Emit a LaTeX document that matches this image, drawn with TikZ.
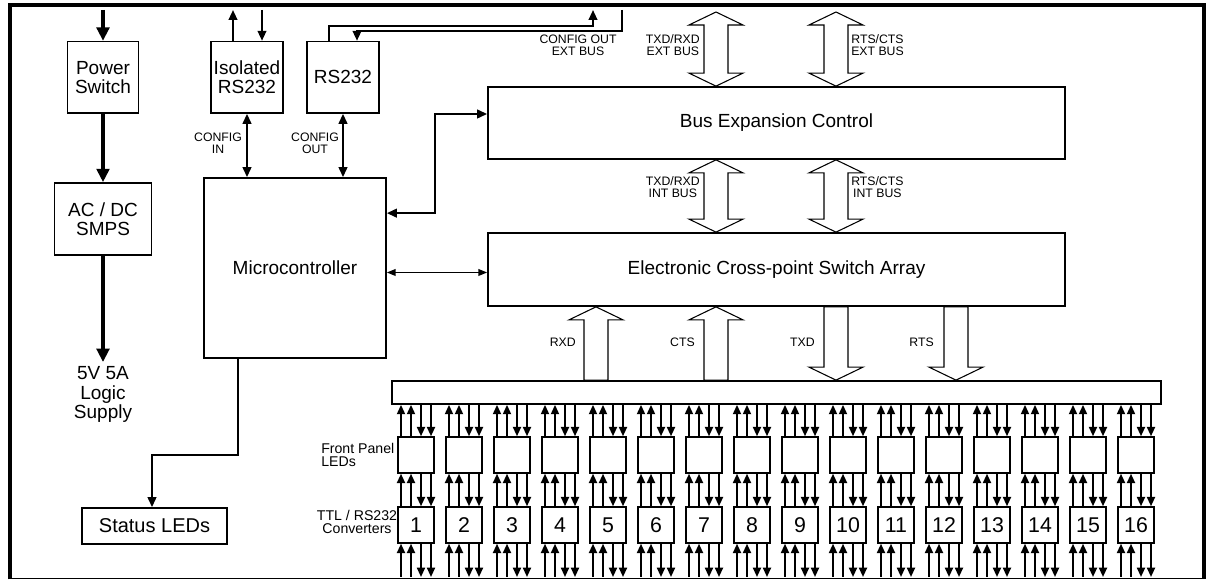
\documentclass[tikz,border=0pt]{standalone}
\usepackage{fontspec}
\setmainfont{Liberation Sans}
\usetikzlibrary{arrows.meta,positioning,calc}

% hollow bus arrow: x, top end, bottom end, heads (0 up, 1 down, 2 both)
\newcommand{\busarrow}[4]{%
  \coordinate (bt) at (#1 |- #2);
  \coordinate (bb) at (#1 |- #3);
  \ifcase#4
    \draw[bus] (bt) -- ++(27,13) -- ++(-15,0) -- ($(bb)+(12,0)$) -- ++(-24,0) -- ($(bt)+(-12,13)$) -- ++(-15,0) -- cycle;
  \or
    \draw[bus] ($(bt)+(-12,0)$) -- ++(24,0) -- ($(bb)+(12,-13)$) -- ++(15,0) -- (bb) -- ++(-27,-13) -- ++(15,0) -- cycle;
  \or
    \draw[bus] (bt) -- ++(27,13) -- ++(-15,0) -- ($(bb)+(12,-13)$) -- ++(15,0) -- (bb) -- ++(-27,-13) -- ++(15,0) -- ($(bt)+(-12,13)$) -- ++(-15,0) -- cycle;
  \fi
}

\begin{document}
\begin{tikzpicture}[x=0.75pt,y=0.75pt,yscale=-1,xscale=1,
	blk/.style={draw,line width=1.3pt,inner sep=0pt,align=center,font=\fontsize{14.25}{14.5}\selectfont},
	chan/.style={draw,line width=1.1pt,minimum width=27pt,minimum height=27pt,inner sep=0pt,font=\fontsize{16}{16}\selectfont},
	lbl/.style={inner sep=0pt,align=center,font=\fontsize{9.2}{9}\selectfont},
	side/.style={inner sep=0pt,font=\fontsize{10.6}{9.2}\selectfont},
	pwr/.style={line width=2.4pt,-{Triangle[length=10pt,width=9.5pt]}},
	sig/.style={line width=1.5pt,>={Triangle[length=7.5pt,width=6.5pt]}},
	chline/.style={line width=1.4pt,>={Triangle[length=7pt,width=6pt]}},
	bus/.style={line width=0.8pt},
]
	\useasboundingbox (0,0) rectangle (1208,580);
	
	%Frame
	\draw [line width=3pt] (9.7,579.5) -- (9.7,5.3) -- (1204,5.3) -- (1204,579.5) ;
	\draw [line width=0.8pt] (9.7,578.5) -- (1204,578.5) ;
	\coordinate (top) at (0,10);
	\coordinate (ext) at (0,12);
	\coordinate (fb) at (0,577);
	
	%Blocks
	\node [blk,minimum width=53.25pt,minimum height=53.5pt] (ps) at (103,77.3) {Power\\Switch};
	\node [blk,minimum width=72.75pt,minimum height=54pt] (smps) at (103,219) {AC / DC\\SMPS};
	\node [blk,draw=none,anchor=north,inner sep=3pt] (sup) at (103,362) {5V 5A\\Logic\\Supply};
	\node [blk,minimum width=54pt,minimum height=53.5pt] (iso) at (247,77.3) {Isolated\\RS232};
	\node [blk,minimum width=54pt,minimum height=53.5pt] (rs) at (343,77.3) {RS232};
	\node [blk,minimum width=136.5pt,minimum height=135pt] (mcu) at (295,268) {Microcontroller};
	\node [blk,minimum width=432.75pt,minimum height=54pt] (bec) at (776.5,123) {Bus Expansion Control};
	\node [blk,minimum width=432.75pt,minimum height=54.75pt] (ecs) at (776.5,269.5) {Electronic Cross-point Switch Array};
	\node [blk,minimum width=576.75pt,minimum height=17.25pt] (bar) at (776.5,392.5) {};
	\node [blk,minimum width=108.75pt,minimum height=27pt,font=\fontsize{15}{15}\selectfont] (leds) at (154.5,526) {Status LEDs};
	
	%Channels
	\foreach \i in {1,...,16}{
		\node [chan] (led\i) at ({416+48*(\i-1)},455) {};
		\node [chan] (cv\i) at ({416+48*(\i-1)},525) {\i};
	}
	\foreach \i in {1,...,16}{
		\foreach \d in {-15,-5}{
			\coordinate (p) at ($(led\i.north)+(\d,0)$);
			\coordinate (q) at ($(cv\i.north)+(\d,0)$);
			\coordinate (r) at ($(cv\i.south)+(\d,0)$);
			\draw [chline,<-] (p |- bar.south) -- (p);
			\draw [chline,<-] (q |- led\i.south) -- (q);
			\draw [chline,<-] (r) -- (r |- fb);
		}
		\foreach \d in {5,15}{
			\coordinate (p) at ($(led\i.north)+(\d,0)$);
			\coordinate (q) at ($(cv\i.north)+(\d,0)$);
			\coordinate (r) at ($(cv\i.south)+(\d,0)$);
			\draw [chline,->] (p |- bar.south) -- (p);
			\draw [chline,->] (q |- led\i.south) -- (q);
			\draw [chline,->] (r) -- (r |- fb);
		}
	}
	
	%Power path
	\draw [pwr] (ps.north |- top) -- (ps.north);
	\draw [pwr] (ps.south) -- (ps.south |- smps.north);
	\draw [pwr] (smps.south) -- (sup.north);
	
	%Serial ports
	\coordinate (isoa) at ($(iso.north)+(-14,0)$);
	\coordinate (isob) at ($(iso.north)+(15,0)$);
	\draw [sig,->] (isoa) -- (isoa |- top);
	\draw [sig,->] (isob |- top) -- (isob);
	\coordinate (rsa) at ($(rs.north)+(-14,0)$);
	\coordinate (rsb) at ($(rs.north)+(14,0)$);
	\coordinate (xo) at (593,26);
	\coordinate (xi) at (622,31);
	\draw [sig,->] (rsa) |- (xo) -- (xo |- top);
	\draw [sig,->] (xi |- top) -- (xi) -| (rsb);
	\draw [sig,<->] (iso.south) -- (iso.south |- mcu.north);
	\draw [sig,<->] (rs.south) -- (rs.south |- mcu.north);
	
	%Microcontroller links
	\draw [sig,<->] ($(mcu.north east)+(0,36)$) -| ($(bec.west)+(-52,-9)$) -- ($(bec.west)+(0,-9)$);
	\draw [line width=1pt,>={Triangle[length=6.5pt,width=5pt]},<->] ($(mcu.east |- ecs.west)+(0,3)$) -- ($(ecs.west)+(0,3)$);
	\coordinate (mcs) at ($(mcu.south west)+(35,0)$);
	\draw [sig,->] (mcs) -- ++(0,96) -| ($(leds.north)+(-2.5,0)$);
	
	%Buses
	\busarrow{716,0}{ext}{bec.north}{2}
	\busarrow{836,0}{ext}{bec.north}{2}
	\busarrow{716,0}{bec.south}{ecs.north}{2}
	\busarrow{836,0}{bec.south}{ecs.north}{2}
	\busarrow{596,0}{ecs.south}{bar.north}{0}
	\busarrow{716,0}{ecs.south}{bar.north}{0}
	\busarrow{836,0}{ecs.south}{bar.north}{1}
	\busarrow{956,0}{ecs.south}{bar.north}{1}
	
	% Text Node
	\node [lbl] (cfgin) at (218,143) {CONFIG\\IN};
	\node [lbl] (cfgout) at (315,143) {CONFIG\\OUT};
	\node [lbl] (cfgext) at (578,45) {CONFIG OUT\\EXT BUS};
	\node [lbl,anchor=east] (txext) at (700,45) {TXD/RXD\\EXT BUS};
	\node [lbl,anchor=west] (rtext) at (851,45) {RTS/CTS\\EXT BUS};
	\node [lbl,anchor=east] (txint) at (700,187) {TXD/RXD\\INT BUS};
	\node [lbl,anchor=west] (rtint) at (851,187) {RTS/CTS\\INT BUS};
	\node [lbl,anchor=east] (lrxd) at (576,342) {RXD};
	\node [lbl,anchor=east] (lcts) at (695,342) {CTS};
	\node [lbl,anchor=east] (ltxd) at (815,342) {TXD};
	\node [lbl,anchor=east] (lrts) at (934,342) {RTS};
	\node [side,anchor=west,align=left] (fpl) at (321,455) {Front Panel\\LEDs};
	\node [side,align=center] (ttl) at (357,522) {TTL / RS232\\Converters};
	
\end{tikzpicture}
\end{document}
